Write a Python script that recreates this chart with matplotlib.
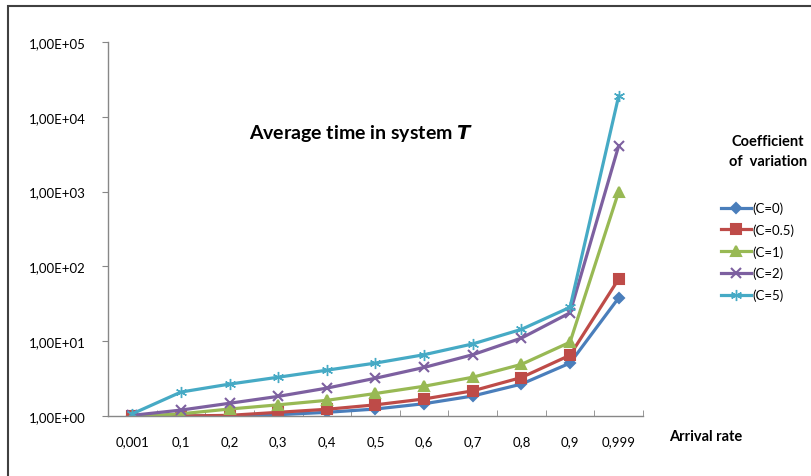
import numpy as np
import matplotlib.pyplot as plt
from matplotlib.patches import Rectangle

plt.rcParams["font.family"] = ["Lato", "DejaVu Sans"]

rates = ["0,001", "0,1", "0,2", "0,3", "0,4", "0,5", "0,6", "0,7", "0,8", "0,9", "0,999"]
t_c0 = [1.0, 1.0, 1.0, 1.04, 1.12, 1.24, 1.46, 1.85, 2.67, 5.1, 38]
t_c05 = [1.0, 1.0, 1.02, 1.12, 1.23, 1.41, 1.69, 2.17, 3.27, 6.5, 68]
t_c1 = [0.98, 1.07, 1.24, 1.41, 1.62, 2.0, 2.5, 3.3, 4.9, 9.7, 1000]
t_c2 = [1.02, 1.2, 1.48, 1.83, 2.36, 3.2, 4.46, 6.6, 11, 24, 4100]
t_c5 = [1.07, 2.09, 2.67, 3.3, 4.1, 5.1, 6.6, 9.2, 14.4, 28.4, 19000]
labels = ["(C=0)", "(C=0.5)", "(C=1)", "(C=2)", "(C=5)"]

series = [t_c0, t_c05, t_c1, t_c2, t_c5]
colors = ["#4A7EBB", "#BE4B48", "#98B954", "#7D60A0", "#46AAC5"]
markers = ["D", "s", "^", "x", (6, 2, 0)]
msizes = [5, 7, 7, 7, 8]
mews = [1.5, 1.5, 1.5, 1.5, 1.0]

fig = plt.figure(figsize=(8.12, 4.77), dpi=100)
ax = fig.add_axes([108 / 812, 1 - 417 / 477, 535 / 812, 374 / 477])

x = np.arange(len(rates))
handles = []
for y, c, m, ms, mw, lab in zip(series, colors, markers, msizes, mews, labels):
    h, = ax.plot(x, y, color=c, lw=2.3, marker=m, ms=ms, mew=mw,
                 mfc=c, mec=c, label=lab)
    handles.append(h)

ax.set_yscale("log")
ax.set_ylim(1, 1e5)
ax.set_xlim(-0.5, len(rates) - 0.5)
ax.set_yticks([1, 10, 100, 1e3, 1e4, 1e5])
ax.set_yticklabels(["1,00E+00", "1,00E+01", "1,00E+02", "1,00E+03", "1,00E+04", "1,00E+05"])
ax.yaxis.set_minor_locator(plt.NullLocator())
ax.set_xticks(x)
ax.set_xticklabels(rates)
ax.set_xticks(np.arange(len(rates) + 1) - 0.5, minor=True)
ax.tick_params(axis="x", which="major", length=0, labelsize=9.5, pad=14)
ax.tick_params(axis="x", which="minor", length=4, direction="in", color="#878787")
ax.tick_params(axis="y", length=4, color="#878787", labelsize=9.5, pad=12)

for s in ["top", "right"]:
    ax.spines[s].set_visible(False)
for s in ["left", "bottom"]:
    ax.spines[s].set_color("#878787")
    ax.spines[s].set_linewidth(1)

fig.text(361 / 812, 1 - 133 / 477, "Average time in system $\\mathbfit{T}$",
         ha="center", va="center", fontsize=14, fontweight="bold")
fig.text(706 / 812, 1 - 437 / 477, "Arrival rate", ha="center", va="center",
         fontsize=10.5, fontweight="bold")
fig.text(768 / 812, 1 - 152 / 477, "Coefficient\nof  variation", ha="center",
         va="center", fontsize=10.5, fontweight="bold", linespacing=1.6)

leg = fig.legend(handles=handles, loc="upper left", bbox_to_anchor=(714 / 812, 1 - 196 / 477),
                 frameon=False, fontsize=9.5, handlelength=2.3, handletextpad=0.1,
                 labelspacing=0.7, borderpad=0)

fig.patches.append(Rectangle((8 / 812, -0.1), 1.2, 1.1 - 7 / 477, transform=fig.transFigure,
                             fill=False, edgecolor="#404040", lw=1.5))

fig.savefig("out.png", dpi=100)
